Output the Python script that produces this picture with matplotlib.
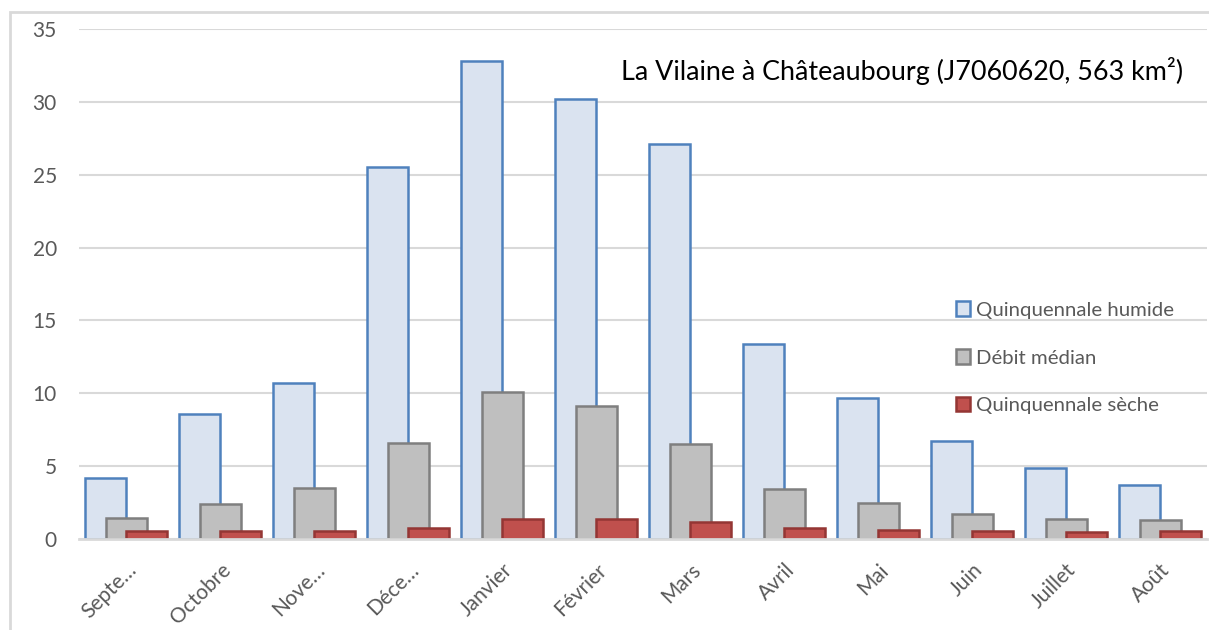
import numpy as np
import matplotlib.pyplot as plt
from matplotlib.patches import Rectangle

plt.rcParams['font.family'] = ['Lato', 'DejaVu Sans']

mois = ["Septe…", "Octobre", "Nove…", "Déce…", "Janvier", "Février",
        "Mars", "Avril", "Mai", "Juin", "Juillet", "Août"]
humide = [4.2, 8.55, 10.7, 25.5, 32.8, 30.2, 27.1, 13.4, 9.7, 6.75, 4.85, 3.7]
median = [1.45, 2.4, 3.5, 6.6, 10.1, 9.1, 6.5, 3.45, 2.5, 1.7, 1.4, 1.3]
seche = [0.55, 0.55, 0.55, 0.75, 1.35, 1.35, 1.2, 0.75, 0.65, 0.55, 0.5, 0.55]
titre = "La Vilaine à Châteaubourg (J7060620, 563 km²)"

fig = plt.figure(figsize=(12.09, 6.3), dpi=100)
ax = fig.add_axes([79 / 1209, 91 / 630, 1128 / 1209, 510 / 630])

x = np.arange(len(mois))
w = 0.436
ax.bar(x - w / 2, humide, w, color="#dae3f0", edgecolor="#4f81bd", linewidth=1.8,
       label="Quinquennale humide", zorder=2)
ax.bar(x, median, w, color="#bfbfbf", edgecolor="#7f7f7f", linewidth=1.8,
       label="Débit médian", zorder=3)
ax.bar(x + w / 2, seche, w, color="#c0504d", edgecolor="#943634", linewidth=1.8,
       label="Quinquennale sèche", zorder=4)

ax.set_xlim(-0.505, 11.5)
ax.set_ylim(0, 35)
ax.set_yticks(range(0, 36, 5))
ax.yaxis.grid(True, color="#d9d9d9", linewidth=1.5, zorder=0)
ax.set_axisbelow(True)
for s in ["top", "right", "left"]:
    ax.spines[s].set_visible(False)
ax.spines["bottom"].set_color("#d9d9d9")
ax.spines["bottom"].set_linewidth(2)
ax.spines["bottom"].set_zorder(5)

ax.set_xticks(x)
ax.set_xticklabels(mois, rotation=45, ha="right", va="top", rotation_mode="anchor")
ax.tick_params(axis="x", length=0, pad=15, labelsize=15, labelcolor="#595959")
ax.tick_params(axis="y", length=0, pad=16, labelsize=15, labelcolor="#595959")

ax.text(0.9787, 0.918, titre, transform=ax.transAxes, ha="right", va="center",
        fontsize=19.4, color="#000000")

leg = ax.legend(loc="upper left", bbox_to_anchor=(0.768, 0.486), frameon=False,
                fontsize=14.7, labelcolor="#595959", handlelength=0.7, handleheight=0.7,
                handletextpad=0.3, labelspacing=1.5, borderpad=0)

# cadre du graphique
fig.patches.append(Rectangle((10 / 1209, -0.1), 1.2, 1.1 - 12 / 630,
                             transform=fig.transFigure, fill=False,
                             edgecolor="#d9d9d9", linewidth=2))

fig.savefig("out.png", dpi=100)
